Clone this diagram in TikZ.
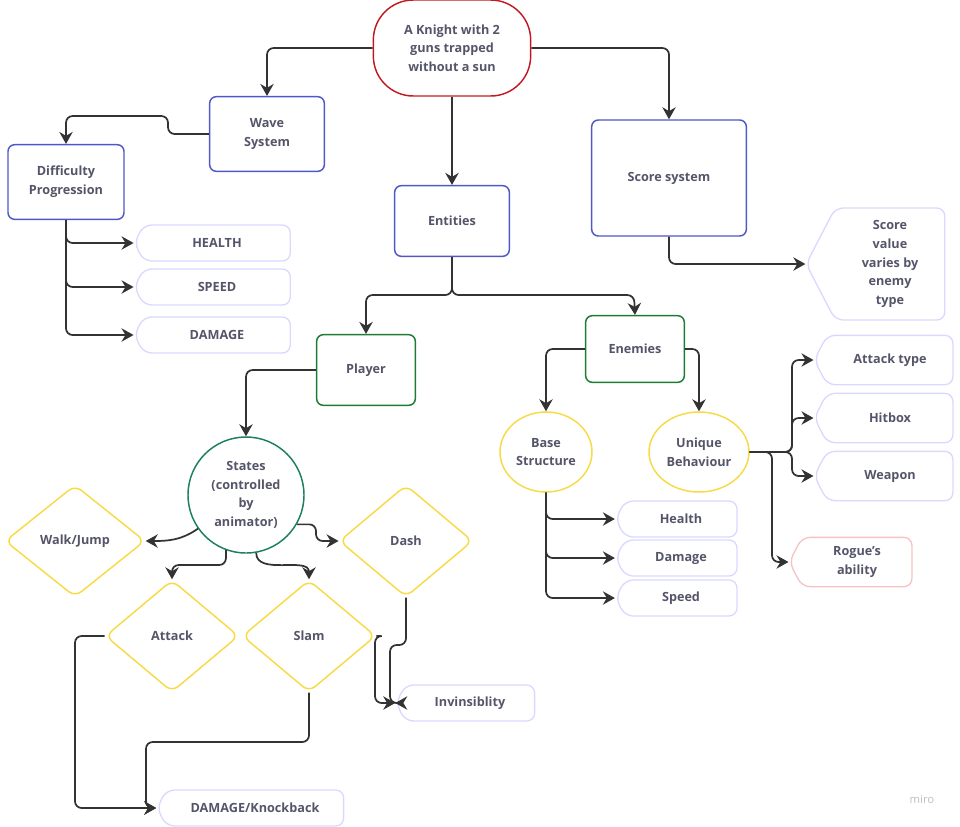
\documentclass[tikz,border=0pt]{standalone}
\usepackage{fontspec}
\setmainfont{Open Sans}
\usetikzlibrary{shapes.geometric,shapes.symbols,arrows.meta}
\definecolor{ink}{HTML}{55556A}
\definecolor{knightred}{HTML}{C21A22}
\definecolor{waveblue}{HTML}{4F58C6}
\definecolor{entgreen}{HTML}{1E7B33}
\definecolor{stateteal}{HTML}{1C7F5E}
\definecolor{gold}{HTML}{F7DA45}
\definecolor{lav}{HTML}{DAD8FF}
\definecolor{rose}{HTML}{F6C3C3}
\definecolor{wire}{HTML}{333333}
\tikzset{
  every node/.style={font=\fontsize{9.5}{14}\selectfont\bfseries, text=ink, align=center},
  box/.style={draw, line width=1.1pt, rounded corners=5pt, inner sep=0pt},
  oval/.style={draw=gold, line width=1.1pt, ellipse, inner sep=0pt},
  gem/.style={draw=gold, line width=1.1pt, diamond, rounded corners=6pt, inner sep=0pt,
    minimum width=100pt, minimum height=84pt},
  tag/.style={draw=lav, line width=1pt, signal, signal to=west, signal pointer angle=125,
    rounded corners=6pt, inner sep=0pt, minimum height=27pt},
  arr/.style={draw=wire, line width=1.3pt, rounded corners=5pt,
    -{Stealth[length=9pt,width=10pt]}}
}
\begin{document}
\begin{tikzpicture}[x=0.75pt,y=-0.75pt]
\useasboundingbox (0,0) rectangle (960,826);

% draw top nodes
\node[box, draw=knightred, rounded corners=30pt, minimum width=118pt, minimum height=72pt] (knight) at (452,48) {A Knight with 2\\guns trapped\\without a sun};
\node[box, draw=waveblue, minimum width=86pt, minimum height=56pt] (wave) at (267,134) {Wave\\System};
\node[box, draw=waveblue, minimum width=87pt, minimum height=56pt] (diff) at (66,182) {Difficulty\\Progression};
\node[box, draw=waveblue, minimum width=86pt, minimum height=53pt] (entities) at (452,221) {Entities};
\node[box, draw=waveblue, minimum width=116pt, minimum height=87pt] (score) at (669,178) {Score system};
\node[tag, minimum width=104pt, minimum height=84pt] (value) at (890,264) {Score\\value\\varies by\\enemy\\type};

% draw difficulty tags
\node[tag, minimum width=117pt] (health) at (217,243) {HEALTH};
\node[tag, minimum width=117pt] (speed) at (217,287) {SPEED};
\node[tag, minimum width=117pt] (damage) at (217,335) {DAMAGE};

% draw entities
\node[box, draw=entgreen, minimum width=74pt, minimum height=53pt] (player) at (366,370) {Player};
\node[box, draw=entgreen, minimum width=74pt, minimum height=50pt] (enemies) at (635,349) {Enemies};
\node[draw=stateteal, line width=1.1pt, circle, inner sep=0pt, minimum size=87pt] (states) at (246,495) {States\\(controlled\\by\\animator)};
\node[oval, minimum width=69pt, minimum height=60pt] (base) at (546,452) {Base\\Structure};
\node[oval, minimum width=75pt, minimum height=60pt] (unique) at (699,452) {Unique\\Behaviour};

% draw enemy tags
\node[tag, minimum width=104pt, minimum height=37pt] (atype) at (890,360) {Attack type};
\node[tag, minimum width=104pt, minimum height=37pt] (hitbox) at (890,418) {Hitbox};
\node[tag, minimum width=104pt, minimum height=37pt] (weapon) at (890,476) {Weapon};
\node[tag, draw=rose, minimum width=92pt, minimum height=37pt] (rogue) at (857,562) {Rogue's\\ability};
\node[tag, minimum width=91pt] (ehealth) at (681,519) {Health};
\node[tag, minimum width=91pt] (edamage) at (681,558) {Damage};
\node[tag, minimum width=91pt] (espeed) at (681,598) {Speed};

% draw state diamonds
\node[gem, minimum width=105pt] (walk) at (75,541) {Walk/Jump};
\node[gem] (dash) at (406,541) {Dash};
\node[gem] (attack) at (172,636) {Attack};
\node[gem] (slam) at (309,636) {Slam};
\node[tag, minimum width=104pt] (invis) at (470,703) {Invinsiblity};
\node[tag, minimum width=140pt] (knock) at (255,808) {DAMAGE/Knockback};

\node[font=\fontsize{8.5}{10}\selectfont, text=black!25] (miro) at (922,799) {miro};

% draw connectors
\draw[arr] (knight.west) -| (wave.north);
\draw[arr] (knight.east) -| (score.north);
\draw[arr] (knight.south) -- (entities.north);
\draw[arr] (wave.west) -| (168,116) -| (diff.north);
\draw[arr] (diff.south) |- (health.west);
\draw[arr] (diff.south) |- (speed.west);
\draw[arr] (diff.south) |- (damage.west);
\draw[arr] (entities.south) |- (366,295) -- (player.north);
\draw[arr] (entities.south) |- (634,295) -- (enemies.north);
\draw[arr] (score.south) |- (value.west);
\draw[arr] (player.west) -| (states.north);
\draw[arr] (enemies.west) -| (base.north);
\draw[arr] (enemies.east) -| (unique.north);
\draw[arr] (base.south) |- (ehealth.west);
\draw[arr] (base.south) |- (edamage.west);
\draw[arr] (base.south) |- (espeed.west);
\draw[arr] (unique.east) -- (792,452) |- (atype.west);
\draw[arr] (unique.east) -- (792,452) |- (hitbox.west);
\draw[arr] (unique.east) -- (792,452) |- (weapon.west);
\draw[arr] (unique.east) -- (772,452) |- (rogue.west);
\draw[arr] (states.215) to[out=215,in=0] (walk.east);
\draw[arr] (states.250) |- (172,565) -- (attack.north);
\draw[arr] (states.280) to[out=270,in=90] (slam.north);
\draw[arr] (states.330) -| (316,541) -- (dash.west);
\draw[arr] (dash.south) |- (390,645) |- (invis.west);
\draw[arr] (slam.east) -| (375,703) -- (invis.west);
\draw[arr] (attack.west) -| (75,808) -- (knock.west);
\draw[arr] (slam.south) |- (146,742) |- (knock.west);
\end{tikzpicture}
\end{document}
